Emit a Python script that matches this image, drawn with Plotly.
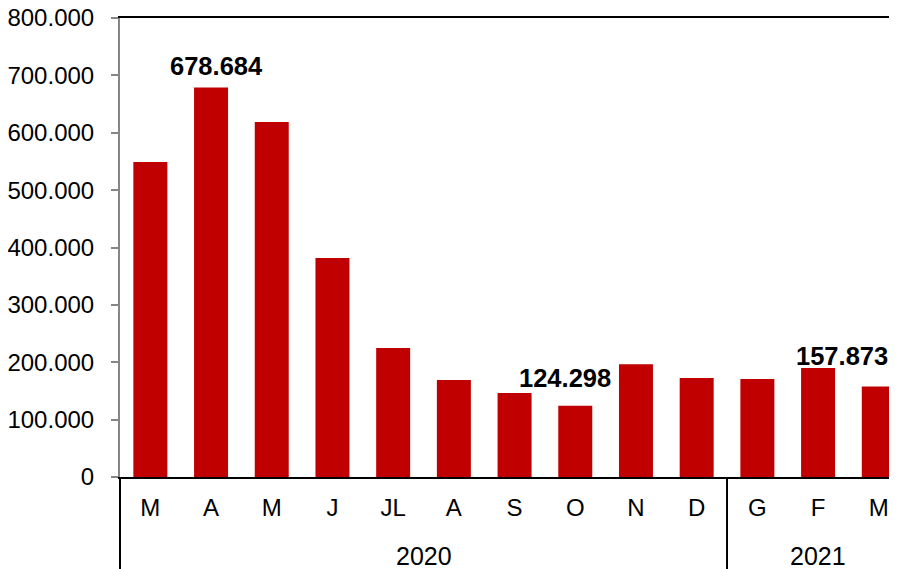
import plotly.graph_objects as go

months = ["M", "A", "M", "J", "JL", "A", "S", "O", "N", "D", "G", "F", "M"]
values = [549000, 678684, 618700, 381700, 224800, 169000, 146400, 124298, 196400, 172500, 170800, 190000, 157873]
years = ["2020", "2021"]
year_spans = [(0, 9), (10, 12)]
label_idx = [1, 7, 12]
y_ticks = [0, 100000, 200000, 300000, 400000, 500000, 600000, 700000, 800000]

# style / placement of value labels (pixel offsets)
label_offsets = {1: (5, 22), 7: (-10, 28), 12: (-37, 30)}

BAR = "#C00000"
FONT = "Liberation Sans, Arial, sans-serif"

x = list(range(len(months)))
fig = go.Figure()
fig.add_trace(go.Bar(x=x, y=values, marker=dict(color=BAR, line=dict(width=0)), width=0.56,
                     hoverinfo="skip"))

def fmt(v):
    return f"{v:,}".replace(",", ".")

for i in label_idx:
    dx, dy = label_offsets[i]
    fig.add_annotation(x=x[i], y=values[i], text=f"<b>{fmt(values[i])}</b>", showarrow=False,
                       xshift=dx, yshift=dy, font=dict(family=FONT, size=25.5, color="black"),
                       xref="x", yref="y")

for yr, (a, b) in zip(years, year_spans):
    fig.add_annotation(x=(a + b) / 2, y=-0.172, xref="x", yref="paper", text=yr, showarrow=False,
                       font=dict(family=FONT, size=25, color="black"), yanchor="middle")

# group dividers below axis
fig.add_shape(type="line", xref="paper", yref="paper", x0=0, x1=0, y0=0, y1=-0.25,
              line=dict(color="black", width=2))
for a, b in year_spans[1:]:
    fig.add_shape(type="line", xref="x", yref="paper", x0=a - 0.5, x1=a - 0.5, y0=0, y1=-0.25,
                  line=dict(color="black", width=2))

fig.update_layout(
    width=889, height=561, autosize=False,
    margin=dict(l=112, r=0, t=10, b=92),
    plot_bgcolor="white", paper_bgcolor="white",
    separators=",.",
    showlegend=False,
    bargap=0.44,
    font=dict(family=FONT, size=24, color="black"),
)
fig.update_xaxes(
    tickmode="array", tickvals=x, ticktext=months,
    range=[-0.5, 12.3], automargin=False,
    showline=True, linecolor="black", linewidth=2, mirror=True,
    ticks="", showgrid=False, ticklabelstandoff=8,
    tickfont=dict(family=FONT, size=24, color="black"),
)
fig.update_yaxes(
    range=[0, 800000], tickvals=y_ticks, tickformat=",d", automargin=False,
    showline=True, linecolor="#868686", linewidth=2,
    ticks="outside", ticklen=7, tickcolor="#868686", tickwidth=2,
    showgrid=False, zeroline=False, ticklabelstandoff=12, ticklabeloverflow="allow",
    tickfont=dict(family=FONT, size=24, color="black"),
)

fig.write_html("out.html", config={"responsive": False})
